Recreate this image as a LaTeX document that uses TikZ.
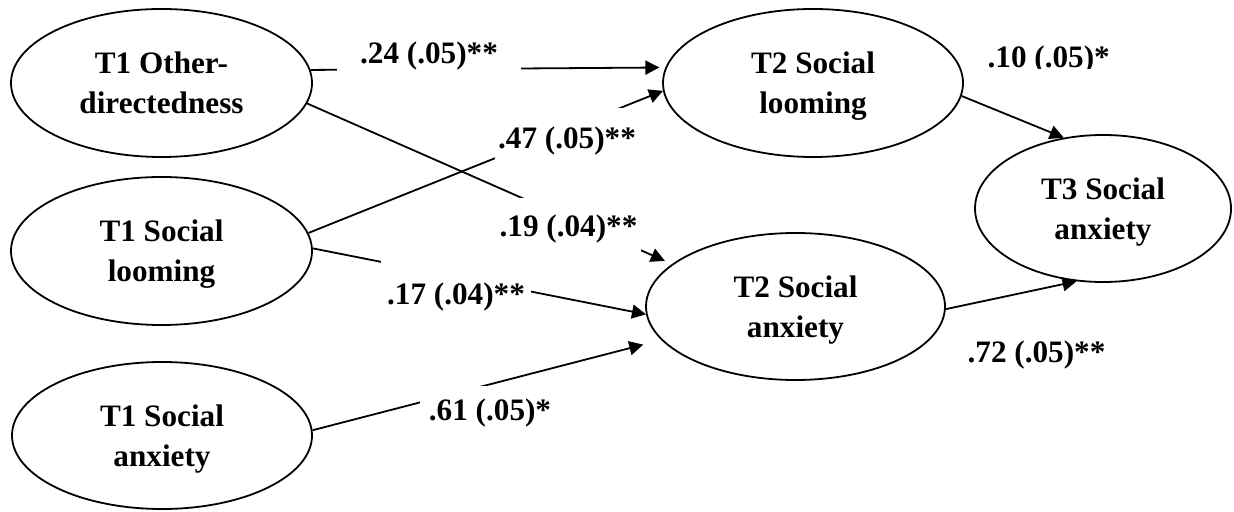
\documentclass[tikz,border=0pt]{standalone}
\usepackage{fontspec}
\setmainfont{Liberation Serif}
\usetikzlibrary{shapes.geometric,arrows.meta}

\begin{document}
\begin{tikzpicture}[x=0.5pt,y=-0.5pt,
  latent/.style={ellipse,draw,line width=0.9pt,inner sep=0pt,align=center,text depth=0pt,
    font=\fontsize{15.6}{20}\selectfont\bfseries},
  regr/.style={line width=0.9pt,-{Triangle[length=7pt,width=7pt]}},
  coef/.style={fill=white,inner sep=0pt,anchor=base,
    font=\fontsize{15.6}{18}\selectfont\bfseries}]

\useasboundingbox (0,0) rectangle (1234,512);

% latent variables
\node[latent,minimum width=150.5pt,minimum height=74pt] (t1o) at (161.5,83) {T1 Other-\\directedness};
\node[latent,minimum width=150.5pt,minimum height=74pt] (t1l) at (161.5,251) {T1 Social\\looming};
\node[latent,minimum width=150pt,minimum height=73.5pt] (t1a) at (162,435.5) {T1 Social\\anxiety};
\node[latent,minimum width=150pt,minimum height=74pt] (t2l) at (813,83) {T2 Social\\looming};
\node[latent,minimum width=149.5pt,minimum height=73.5pt] (t2a) at (795.5,306.5) {T2 Social\\anxiety};
\node[latent,minimum width=128pt,minimum height=73.5pt] (t3) at (1103,208.5) {T3 Social\\anxiety};

% paths
\draw[regr,shorten >=3pt] (t1o.5.4) -- (t2l.174.6);
\draw[regr,shorten >=3.9pt] (t1o.-8.3) -- (t2a.161.5);
\draw[regr] (t1l.7) -- (t2l.-177.35);
\draw[regr] (t1l.1.2) -- (t2a.183.6);
\draw[regr,shorten >=9.25pt] (t1a.2.1) -- (t2a.194.3);
\draw[regr] (t2l.-5.8) -- (t3.119);
\draw[regr] (t2a.-1.3) -- (t3.-110);

% path coefficients (white boxes interrupt the lines)
\node[coef,inner xsep=11.5pt,text depth=4.5pt] (c24) at (429,63.3) {.24 (.05)**};
\node[coef,inner xsep=1.75pt,text height=20.15pt,text depth=6pt] (c47) at (567,148.3) {.47 (.05)**};
\node[coef,inner xsep=2pt,text height=19.35pt,text depth=8.15pt] (c19) at (568.5,236.7) {.19 (.04)**};
\node[coef,inner xsep=3pt,text height=24.5pt,text depth=2.5pt] (c17) at (456,305) {.17 (.04)**};
\node[coef,inner xsep=4.35pt,text height=17pt,text depth=2.5pt] (c61) at (490,420) {.61 (.05)*};
\begin{scope}
  \clip (980,30) rectangle (1120,69);
  \node[coef] (c10) at (1048.7,68) {.10 (.05)*};
\end{scope}
\node[coef] (c72) at (1036.5,363) {.72 (.05)**};

\end{tikzpicture}
\end{document}
